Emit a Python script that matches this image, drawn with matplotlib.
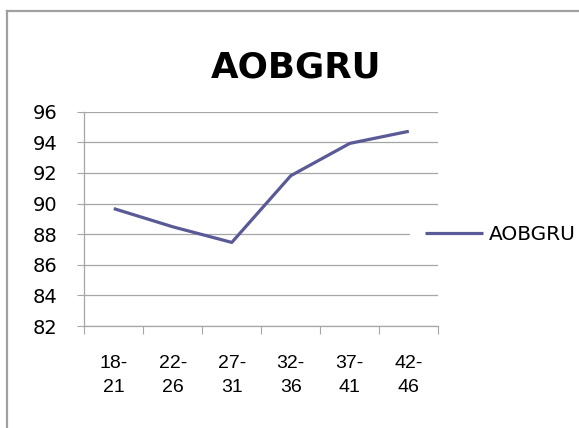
import matplotlib
matplotlib.use("Agg")
import matplotlib.pyplot as plt
from matplotlib.lines import Line2D

# Data
categories = ["18-\n21", "22-\n26", "27-\n31", "32-\n36", "37-\n41", "42-\n46"]
aobgru = [89.67, 88.48, 87.46, 91.82, 93.93, 94.72]
y_ticks = [82, 84, 86, 88, 90, 92, 94, 96]
series_name = "AOBGRU"

W, H = 579, 428
fig = plt.figure(figsize=(W / 100, H / 100), dpi=100)


def fx(px):
    return px / W


def fy(py):
    return 1 - py / H


LINE_COLOR = "#5A5A96"
GRID_COLOR = "#A6A6A6"

# Chart area border (open towards the right and bottom edges)
border_kw = dict(color="#A0A0A0", linewidth=1.6, transform=fig.transFigure)
fig.add_artist(Line2D([fx(6.7), fx(W + 10)], [fy(10.7), fy(10.7)], **border_kw))
fig.add_artist(Line2D([fx(6.7), fx(6.7)], [fy(10.7), fy(H + 10)], **border_kw))

# Plot area
left, right, top, bottom = 84.3, 438.3, 111.7, 326.0
ax = fig.add_axes([fx(left), fy(bottom), (right - left) / W, (bottom - top) / H])

x = list(range(len(categories)))
ax.plot(x, aobgru, color=LINE_COLOR, linewidth=2.3, solid_capstyle="butt",
        label=series_name, zorder=3)

ax.set_xlim(-0.5, len(categories) - 0.5)
ax.set_ylim(y_ticks[0], y_ticks[-1])

# y axis
ax.set_yticks(y_ticks)
ax.set_yticklabels([str(v) for v in y_ticks])
ax.tick_params(axis="y", which="major", direction="out", length=5.2, width=0.8,
               color=GRID_COLOR, pad=14, labelsize=14)
ax.yaxis.grid(True, color=GRID_COLOR, linewidth=0.9)
ax.set_axisbelow(True)

# x axis: ticks on category boundaries, labels at category centres
ax.set_xticks([i - 0.5 for i in range(len(categories) + 1)])
ax.set_xticklabels([])
ax.set_xticks(x, minor=True)
ax.set_xticklabels(categories, minor=True, fontsize=14, family="Liberation Sans",
                   linespacing=1.55)
ax.tick_params(axis="x", which="major", direction="out", length=6, width=0.8,
               color=GRID_COLOR)
ax.tick_params(axis="x", which="minor", length=0, pad=21)

for s in ("top", "right"):
    ax.spines[s].set_visible(False)
for s in ("left", "bottom"):
    ax.spines[s].set_color(GRID_COLOR)
    ax.spines[s].set_linewidth(0.9)

# Title
fig.text(fx(296), fy(77), series_name, ha="center", va="baseline",
         fontsize=25.7, fontweight="bold", family="DejaVu Sans")

# Legend
leg = ax.legend(loc="center left", bbox_to_anchor=(fx(410), fy(235)),
                bbox_transform=fig.transFigure, borderaxespad=0,
                borderpad=0.75, handlelength=2.85, handletextpad=0.3,
                fontsize=14.5, frameon=True, fancybox=False)
leg.get_frame().set_facecolor("white")
leg.get_frame().set_edgecolor("none")
leg.get_frame().set_alpha(1)
for line in leg.get_lines():
    line.set_linewidth(2.3)

fig.savefig("out.png", dpi=100)
